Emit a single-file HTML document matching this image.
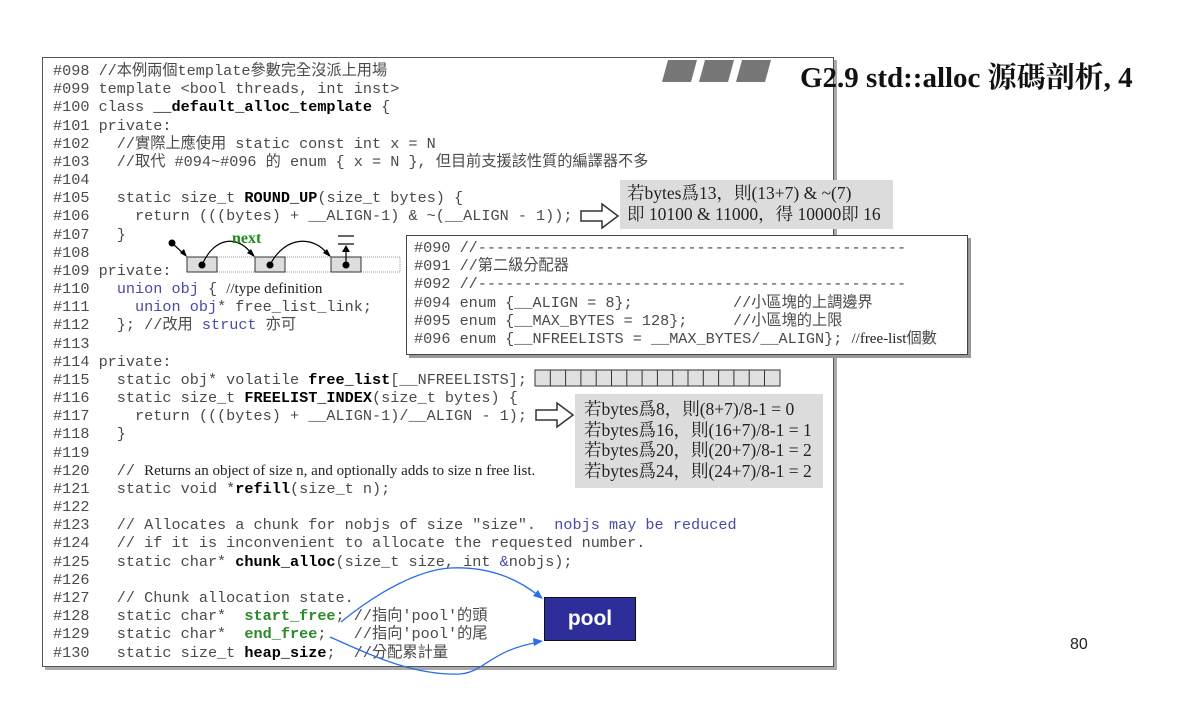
<!DOCTYPE html>
<html><head><meta charset="utf-8"><style>
body{margin:0;width:1179px;height:706px;background:#fff;position:relative;overflow:hidden;font-family:"Liberation Sans","Noto Sans CJK TC",sans-serif}
.abs{position:absolute}
pre{margin:0;font-family:"Liberation Mono","Noto Sans CJK TC",monospace;font-size:15.2px;line-height:18.17px;color:#4a4a4a;white-space:pre}
b{color:#000}
.bl{color:#4a4aa8}
.gr{color:#2a8a2a;font-weight:bold}
.sf{font-family:"Liberation Serif","Noto Serif CJK SC",serif;font-size:15px;color:#222}
.gray{background:#dcdcdc;font-family:"Liberation Serif","Noto Serif CJK SC",serif;font-size:17.5px;color:#222;letter-spacing:0px}
</style></head><body>
<div class="abs" style="left:42px;top:57px;width:790px;height:608px;border:1.5px solid #555;box-shadow:3px 3px 0 #aaa"></div>
<pre class="abs" style="left:53px;top:62px">#098 //本例兩個template參數完全沒派上用場
#099 template &lt;bool threads, int inst&gt;
#100 class <b>__default_alloc_template</b> {
#101 private:
#102   //實際上應使用 static const int x = N
#103   //取代 #094~#096 的 enum { x = N }, 但目前支援該性質的編譯器不多
#104
#105   static size_t <b>ROUND_UP</b>(size_t bytes) {
#106     return (((bytes) + __ALIGN-1) &amp; ~(__ALIGN - 1));
#107   }
#108
#109 private:
#110   <span class="bl">union obj</span> { <span class="sf">//type definition</span>
#111     <span class="bl">union obj</span>* free_list_link;
#112   }; //改用 <span class="bl">struct</span> 亦可
#113
#114 private:
#115   static obj* volatile <b>free_list</b>[__NFREELISTS];
#116   static size_t <b>FREELIST_INDEX</b>(size_t bytes) {
#117     return (((bytes) + __ALIGN-1)/__ALIGN - 1);
#118   }
#119
#120   // <span class="sf">Returns an object of size n, and optionally adds to size n free list.</span>
#121   static void *<b>refill</b>(size_t n);
#122
#123   // Allocates a chunk for nobjs of size "size".  <span class="bl">nobjs may be reduced</span>
#124   // if it is inconvenient to allocate the requested number.
#125   static char* <b>chunk_alloc</b>(size_t size, int <span class="bl">&amp;</span>nobjs);
#126
#127   // Chunk allocation state.
#128   static char*  <span class="gr">start_free</span>; //指向'pool'的頭
#129   static char*  <span class="gr">end_free</span>;   //指向'pool'的尾
#130   static size_t <b>heap_size</b>;  //分配累計量</pre>

<!-- title -->
<svg class="abs" style="left:660px;top:58px" width="115" height="26"><g fill="#777"><polygon points="8,2 37,2 31,24 2,24"/><polygon points="45,2 74,2 68,24 39,24"/><polygon points="82,2 111,2 105,24 76,24"/></g></svg>
<div class="abs" style="left:800px;top:55px;font-family:'Liberation Serif','Noto Serif CJK TC',serif;font-weight:bold;font-size:29px;color:#111;white-space:nowrap">G2.9 std::alloc 源碼剖析, 4</div>
<div class="abs" style="left:1070px;top:636px;font-size:16px;color:#222">80</div>

<!-- gray box 1 -->
<div class="abs gray" style="left:620px;top:180px;width:273px;height:49px;line-height:21px;padding-left:7px;box-sizing:border-box;padding-top:3px;white-space:nowrap">若bytes爲13，則(13+7) &amp; ~(7)<br>即 10100 &amp; 11000，得 10000即 16</div>
<!-- gray box 2 -->
<div class="abs gray" style="left:575px;top:394px;width:248px;height:94px;line-height:20.7px;padding-left:9px;box-sizing:border-box;padding-top:5px;white-space:nowrap">若bytes爲8，則(8+7)/8-1 = 0<br>若bytes爲16，則(16+7)/8-1 = 1<br>若bytes爲20，則(20+7)/8-1 = 2<br>若bytes爲24，則(24+7)/8-1 = 2</div>

<!-- sub box -->
<div class="abs" style="left:406px;top:235px;width:562px;height:120px;background:#fff;border:1.5px solid #444;box-shadow:3px 3px 0 #999;box-sizing:border-box"></div>
<pre class="abs" style="left:414px;top:239px">#090 //-----------------------------------------------
#091 //第二級分配器
#092 //-----------------------------------------------
#094 enum {__ALIGN = 8};           //小區塊的上調邊界
#095 enum {__MAX_BYTES = 128};     //小區塊的上限
#096 enum {__NFREELISTS = __MAX_BYTES/__ALIGN}; <span class="sf">//free-list</span>個數</pre>

<svg class="abs" style="left:0;top:0" width="1179" height="706">
<g fill="#fff" stroke="#333" stroke-width="1.5">
<polygon points="581,211 602,211 602,204 618,216 602,228 602,221 581,221"/>
<polygon points="536,410 557,410 557,403 573,415 557,427 557,420 536,420"/>
</g>
<rect x="535" y="370" width="245" height="16" fill="#e0e0e0" stroke="#333" stroke-width="1"/>
<g stroke="#333" stroke-width="1">
<line x1="550.3" y1="370" x2="550.3" y2="386"/><line x1="565.6" y1="370" x2="565.6" y2="386"/><line x1="580.9" y1="370" x2="580.9" y2="386"/><line x1="596.2" y1="370" x2="596.2" y2="386"/><line x1="611.5" y1="370" x2="611.5" y2="386"/><line x1="626.8" y1="370" x2="626.8" y2="386"/><line x1="642.1" y1="370" x2="642.1" y2="386"/><line x1="657.4" y1="370" x2="657.4" y2="386"/><line x1="672.7" y1="370" x2="672.7" y2="386"/><line x1="688" y1="370" x2="688" y2="386"/><line x1="703.3" y1="370" x2="703.3" y2="386"/><line x1="718.6" y1="370" x2="718.6" y2="386"/><line x1="733.9" y1="370" x2="733.9" y2="386"/><line x1="749.2" y1="370" x2="749.2" y2="386"/><line x1="764.5" y1="370" x2="764.5" y2="386"/>
</g>
<rect x="187" y="257" width="213" height="15" fill="none" stroke="#999" stroke-dasharray="1,1"/>
<g fill="#ddd" stroke="#333" stroke-width="1"><rect x="187" y="257" width="30" height="15"/><rect x="255" y="257" width="30" height="15"/><rect x="331" y="257" width="30" height="15"/></g>
<g fill="#000"><circle cx="202" cy="265" r="3.5"/><circle cx="270" cy="265" r="3.5"/><circle cx="346" cy="265" r="3.5"/><circle cx="172" cy="243" r="3.5"/></g>
<g fill="none" stroke="#000" stroke-width="1.2">
<line x1="172" y1="243" x2="185" y2="255"/>
<path d="M202,265 C215,235 240,235 253,256"/>
<path d="M270,265 C285,235 315,235 329,256"/>
<line x1="346" y1="265" x2="346" y2="248"/>
<line x1="338" y1="244" x2="354" y2="244"/><line x1="338" y1="236" x2="354" y2="236"/>
</g>
<g fill="#000"><polygon points="187,257 180,253 184,249"/><polygon points="255,257 247,253 251,249"/><polygon points="331,257 323,253 327,249"/><polygon points="346,245 342,252 350,252"/></g>
<g fill="none" stroke="#2a6ee8" stroke-width="1.3">
<path d="M341,622 C380,590 420,570 450,568 C490,566 520,580 540,597"/>
<path d="M330,637 C360,650 410,676 460,674 C485,672 490,650 540,642"/>
</g>
<g fill="#2a6ee8"><polygon points="543,599 533,596 538,590"/><polygon points="543,641 534,646 533,638"/></g>
</svg>
<div class="abs gr" style="left:232px;top:230px;font-family:'Liberation Serif',serif;font-size:16px;color:#1a8a1a">next</div>
<div class="abs" style="left:544px;top:597px;width:92px;height:44px;background:#2e2e9a;border:1px solid #111;color:#fff;font-weight:bold;font-size:21px;text-align:center;line-height:42px;box-sizing:border-box">pool</div>
</body></html>
